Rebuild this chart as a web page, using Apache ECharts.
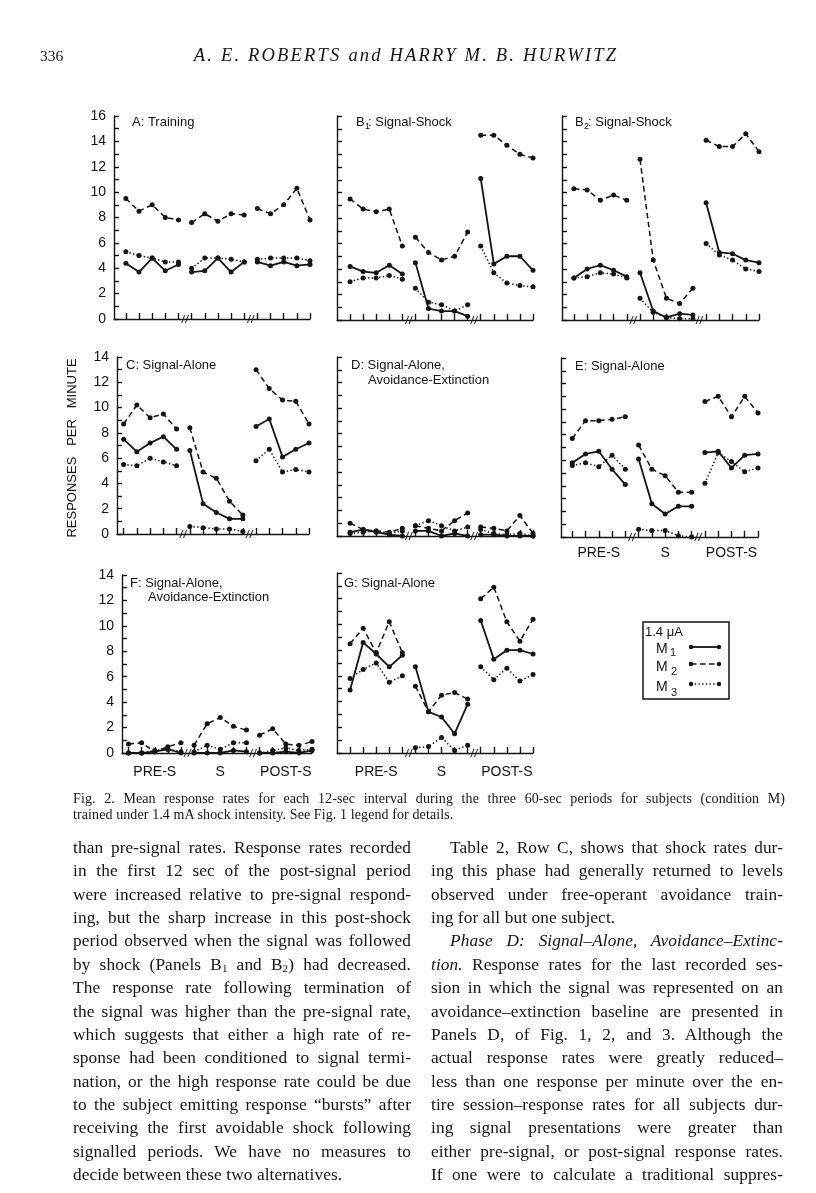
<!DOCTYPE html>
<html>
<head>
<meta charset="utf-8">
<script src="https://cdn.jsdelivr.net/npm/echarts@6/dist/echarts.min.js"></script>
<style>
  body { margin: 0; background: #fff; }
  #page { position: relative; width: 816px; height: 1193px; overflow: hidden; background: #fff; }
  #chart { position: absolute; left: 0; top: 0; width: 816px; height: 1193px; }
  .t { position: absolute; font-family: "Liberation Serif", serif; color: #151515; white-space: nowrap; }
  .ln { position: absolute; font-family: "Liberation Serif", serif; font-size: 17.3px; line-height: 20px; letter-spacing: 0.1px; color: #151515; white-space: nowrap; }
  .ln sub { font-size: 11px; vertical-align: -2px; line-height: 0; }
</style>
</head>
<body>
<div id="page">
  <div id="chart"></div>
  <div class="t" style="left:40px;top:47px;font-size:15.5px;">336</div>
  <div class="t" style="left:0;width:812px;text-align:center;top:45px;font-size:18.5px;font-style:italic;letter-spacing:2.2px;">A. E. ROBERTS and HARRY M. B. HURWITZ</div>
  <div id="text"></div>
</div>
<script>
// x positions of the 12-sec intervals (5 pre-signal, 5 signal, 5 post-signal)
const xPoints = [1, 2, 3, 4, 5, 6, 7, 8, 9, 10, 11, 12, 13, 14, 15];
const breaks = [5.5, 10.5];
const periodTicks = [3, 8, 13];
const periodLabels = ['PRE-S', 'S', 'POST-S'];

// responses per minute, M1 / M2 / M3
const A_M1 = [4.4, 3.7, 4.8, 3.8, 4.3, 3.7, 3.8, 4.8, 3.7, 4.5, 4.5, 4.2, 4.5, 4.2, 4.3];
const A_M2 = [9.5, 8.5, 9.0, 8.0, 7.8, 7.6, 8.3, 7.7, 8.3, 8.2, 8.7, 8.3, 9.0, 10.3, 7.8];
const A_M3 = [5.3, 5.0, 4.8, 4.5, 4.5, 4.0, 4.8, 4.8, 4.7, 4.5, 4.7, 4.8, 4.8, 4.8, 4.6];

const B1_M1 = [4.2, 3.8, 3.7, 4.3, 3.6, 4.5, 0.9, 0.7, 0.7, 0.3, 11.1, 4.4, 5.0, 5.0, 3.9];
const B1_M2 = [9.5, 8.7, 8.5, 8.7, 5.8, 6.5, 5.3, 4.7, 5.0, 6.9, 14.5, 14.5, 13.7, 13.0, 12.7];
const B1_M3 = [3.0, 3.3, 3.3, 3.5, 3.2, 2.5, 1.4, 1.2, 0.7, 1.2, 5.8, 3.7, 2.9, 2.7, 2.6];

const B2_M1 = [3.3, 4.0, 4.3, 3.9, 3.4, 3.7, 0.7, 0.2, 0.5, 0.4, 9.2, 5.3, 5.2, 4.7, 4.5];
const B2_M2 = [10.3, 10.2, 9.4, 9.8, 9.4, 12.6, 4.7, 1.7, 1.3, 2.5, 14.1, 13.6, 13.6, 14.6, 13.2];
const B2_M3 = [3.3, 3.4, 3.7, 3.6, 3.3, 1.7, 0.6, 0.2, 0.1, 0.1, 6.0, 5.1, 4.7, 4.0, 3.8];

const C_M1 = [7.5, 6.5, 7.2, 7.7, 6.7, 6.6, 2.4, 1.7, 1.2, 1.2, 8.5, 9.1, 6.1, 6.7, 7.2];
const C_M2 = [8.7, 10.2, 9.2, 9.5, 8.3, 8.4, 4.9, 4.4, 2.6, 1.5, 13.0, 11.5, 10.6, 10.5, 8.7];
const C_M3 = [5.5, 5.4, 6.0, 5.7, 5.4, 0.6, 0.5, 0.4, 0.4, 0.2, 5.8, 6.7, 4.9, 5.1, 4.9];

const D_M1 = [0.3, 0.5, 0.3, 0.1, 0.0, 0.4, 0.4, 0.0, 0.2, 0.0, 0.1, 0.1, 0.0, 0.0, 0.0];
const D_M2 = [1.0, 0.5, 0.4, 0.3, 0.6, 0.8, 0.6, 0.4, 1.2, 1.8, 0.7, 0.6, 0.4, 1.6, 0.2];
const D_M3 = [0.2, 0.3, 0.4, 0.2, 0.4, 0.8, 1.2, 0.8, 0.4, 0.7, 0.5, 0.2, 0.1, 0.2, 0.0];

const E_M1 = [5.8, 6.5, 6.7, 5.3, 4.1, 6.1, 2.6, 1.8, 2.4, 2.4, 6.6, 6.7, 5.4, 6.4, 6.5];
const E_M2 = [7.7, 9.1, 9.1, 9.2, 9.4, 7.2, 5.3, 4.8, 3.5, 3.5, 10.6, 11.0, 9.4, 11.0, 9.7];
const E_M3 = [5.6, 5.8, 5.5, 6.4, 5.3, 0.6, 0.5, 0.5, 0.1, 0.0, 4.2, 6.6, 5.9, 5.1, 5.4];

const F_M1 = [0.0, 0.0, 0.1, 0.3, 0.0, 0.0, 0.0, 0.0, 0.2, 0.1, 0.0, 0.0, 0.1, 0.0, 0.2];
const F_M2 = [0.7, 0.8, 0.1, 0.5, 0.8, 0.6, 2.3, 2.8, 2.1, 1.8, 1.4, 1.9, 0.7, 0.6, 0.9];
const F_M3 = [0.0, 0.0, 0.2, 0.3, 0.1, 0.1, 0.6, 0.3, 0.8, 0.8, 0.0, 0.2, 0.4, 0.2, 0.3];

const G_M1 = [4.9, 8.6, 7.7, 6.7, 7.6, 6.7, 3.2, 2.8, 1.5, 3.8, 10.3, 7.3, 8.0, 8.0, 7.7];
const G_M2 = [8.5, 9.7, 7.8, 10.2, 7.8, 5.2, 3.2, 4.5, 4.7, 4.2, 12.0, 12.9, 10.2, 8.7, 10.4];
const G_M3 = [5.8, 6.5, 7.0, 5.5, 6.0, 0.4, 0.5, 1.2, 0.2, 0.6, 6.7, 5.7, 6.6, 5.6, 6.1];

const INK = '#141414';
const SANS = '"Liberation Sans", Arial, sans-serif';

const panels = [
  { left: 114, right: 310, top: 116, bottom: 319, xMin: 0.1, yMax: 16, yLabels: true,  periods: false, data: [A_M1, A_M2, A_M3] },
  { left: 337, right: 533, top: 116, bottom: 320, xMin: 0,   yMax: 16, yLabels: false, periods: false, data: [B1_M1, B1_M2, B1_M3] },
  { left: 562, right: 759, top: 116, bottom: 320, xMin: 0.1, yMax: 16, yLabels: false, periods: false, data: [B2_M1, B2_M2, B2_M3] },
  { left: 117, right: 309, top: 357, bottom: 534, xMin: 0.5, yMax: 14, yLabels: true,  periods: false, data: [C_M1, C_M2, C_M3] },
  { left: 337, right: 533, top: 357, bottom: 536, xMin: 0,   yMax: 14, yLabels: false, periods: false, data: [D_M1, D_M2, D_M3] },
  { left: 561, right: 758, top: 358, bottom: 537, xMin: 0.15, yMax: 14, yLabels: false, periods: true, labelGap: 9, data: [E_M1, E_M2, E_M3] },
  { left: 122, right: 312, top: 575, bottom: 753, xMin: 0.5, yMax: 14, yLabels: true,  periods: true, labelGap: 12, data: [F_M1, F_M2, F_M3] },
  { left: 337, right: 533, top: 573, bottom: 753, xMin: 0,   yMax: 14, yLabels: false, periods: true, labelGap: 12, data: [G_M1, G_M2, G_M3] }
];

const lineTypes = [
  { type: 'solid', width: 1.8 },
  { type: [5.5, 3.5], width: 1.5 },
  { type: [1.4, 2.3], width: 1.5 }
];

// split the 15 points into three unconnected runs
function toRuns(vals) {
  const out = [];
  xPoints.forEach((x, i) => {
    out.push([x, vals[i]]);
    if (breaks.includes(x + 0.5)) out.push([x + 0.5, '-']);
  });
  return out;
}

const grid = [], xAxis = [], yAxis = [], series = [];
panels.forEach((p, i) => {
  grid.push({ left: p.left, top: p.top, width: p.right - p.left, height: p.bottom - p.top, containLabel: false });
  xAxis.push({
    type: 'value', gridIndex: i, min: p.xMin, max: 15,
    axisLine: { show: true, lineStyle: { color: INK, width: 1.4 } },
    axisTick: { show: true, inside: true, length: 6, customValues: xPoints, lineStyle: { color: INK, width: 1.4 } },
    axisLabel: p.periods ? {
      show: true, customValues: periodTicks, margin: p.labelGap, color: INK,
      fontFamily: SANS, fontSize: 14,
      formatter: v => periodLabels[periodTicks.indexOf(v)] || ''
    } : { show: false },
    splitLine: { show: false }
  });
  yAxis.push({
    type: 'value', gridIndex: i, min: 0, max: p.yMax, interval: 1,
    axisLine: { show: true, lineStyle: { color: INK, width: 1.4 } },
    axisTick: { show: true, inside: true, length: 5, lineStyle: { color: INK, width: 1.4 } },
    axisLabel: p.yLabels ? {
      show: true, margin: 8, color: INK, fontFamily: SANS, fontSize: 14,
      formatter: v => (v % 2 === 0 ? String(v) : '')
    } : { show: false },
    splitLine: { show: false }
  });
  p.data.forEach((vals, k) => {
    series.push({
      type: 'line', xAxisIndex: i, yAxisIndex: i, data: toRuns(vals),
      connectNulls: false, symbol: 'circle', symbolSize: 5, showSymbol: true,
      lineStyle: { color: INK, width: lineTypes[k].width, type: lineTypes[k].type },
      itemStyle: { color: INK }, silent: true, animation: false, z: 3
    });
  });
  series.push({
    type: 'scatter', xAxisIndex: i, yAxisIndex: i,
    data: breaks.map(b => [b, 0]),
    symbol: 'path://M0,10 L3,0 L4.2,0 L1.2,10 Z M3.6,10 L6.6,0 L7.8,0 L4.8,10 Z',
    symbolSize: [8, 8], itemStyle: { color: INK }, silent: true, animation: false, z: 4
  });
});

function txt(x, y, text, size, extra) {
  return Object.assign({
    type: 'text', x: x, y: y, silent: true,
    style: { text: text, fill: INK, fontFamily: SANS, fontSize: size || 13, textVerticalAlign: 'middle' }
  }, extra || {});
}

const graphic = [
  txt(132, 122, 'A: Training'),
  txt(356, 122, 'B'), txt(365, 127, '1', 9), txt(368, 122, ': Signal-Shock'),
  txt(575, 122, 'B'), txt(584, 127, '2', 9), txt(588, 122, ': Signal-Shock'),
  txt(126, 365, 'C: Signal-Alone'),
  txt(351, 365, 'D: Signal-Alone,'), txt(368, 380, 'Avoidance-Extinction'),
  txt(575, 366, 'E: Signal-Alone'),
  txt(130, 583, 'F: Signal-Alone,'), txt(148, 597, 'Avoidance-Extinction'),
  txt(344, 583, 'G: Signal-Alone'),
  txt(72, 448, 'RESPONSES   PER   MINUTE', 13, {
    rotation: Math.PI / 2, style: { text: 'RESPONSES   PER   MINUTE', fill: INK, fontFamily: SANS, fontSize: 13, textAlign: 'center', textVerticalAlign: 'middle' }
  }),
  // legend box
  { type: 'rect', silent: true, shape: { x: 643, y: 622, width: 86, height: 77 }, style: { fill: 'none', stroke: INK, lineWidth: 1.5 } },
  txt(645, 632, '1.4 \u03bcA', 13),
  txt(656, 649, 'M', 14), txt(670, 653, '1', 11),
  txt(656, 667, 'M', 14), txt(671, 672, '2', 11),
  txt(656, 687, 'M', 14), txt(671, 693, '3', 11)
];
const legendRows = [647, 664, 684];
legendRows.forEach((y, k) => {
  graphic.push({ type: 'line', silent: true, shape: { x1: 691, y1: y, x2: 719, y2: y },
    style: { stroke: INK, lineWidth: lineTypes[k].width, lineDash: k === 0 ? null : lineTypes[k].type } });
  graphic.push({ type: 'circle', silent: true, shape: { cx: 691, cy: y, r: 2.2 }, style: { fill: INK } });
  graphic.push({ type: 'circle', silent: true, shape: { cx: 719, cy: y, r: 2.2 }, style: { fill: INK } });
});

const chart = echarts.init(document.getElementById('chart'), null, { renderer: 'canvas' });
chart.setOption({ animation: false, backgroundColor: '#fff', grid, xAxis, yAxis, series, graphic });

// ---- caption and body text ----
const caption = [
  'Fig. 2. Mean response rates for each 12-sec interval during the three 60-sec periods for subjects (condition M)',
  'trained under 1.4 mA shock intensity. See Fig. 1 legend for details.'
];
const leftCol = [
  'than pre-signal rates. Response rates recorded',
  'in the first 12 sec of the post-signal period',
  'were increased relative to pre-signal respond-',
  'ing, but the sharp increase in this post-shock',
  'period observed when the signal was followed',
  'by shock (Panels B<sub>1</sub> and B<sub>2</sub>) had decreased.',
  'The response rate following termination of',
  'the signal was higher than the pre-signal rate,',
  'which suggests that either a high rate of re-',
  'sponse had been conditioned to signal termi-',
  'nation, or the high response rate could be due',
  'to the subject emitting response \u201cbursts\u201d after',
  'receiving the first avoidable shock following',
  'signalled periods. We have no measures to',
  'decide between these two alternatives.'
];
const rightCol = [
  'Table 2, Row C, shows that shock rates dur-',
  'ing this phase had generally returned to levels',
  'observed under free-operant avoidance train-',
  'ing for all but one subject.',
  '<i>Phase D: Signal\u2013Alone, Avoidance\u2013Extinc-</i>',
  '<i>tion.</i> Response rates for the last recorded ses-',
  'sion in which the signal was represented on an',
  'avoidance\u2013extinction baseline are presented in',
  'Panels D, of Fig. 1, 2, and 3. Although the',
  'actual response rates were greatly reduced\u2013',
  'less than one response per minute over the en-',
  'tire session\u2013response rates for all subjects dur-',
  'ing signal presentations were greater than',
  'either pre-signal, or post-signal response rates.',
  'If one were to calculate a traditional suppres-'
];
const leftEnds = [14];
const rightEnds = [3];
const rightIndents = [0, 4];

const holder = document.getElementById('text');
function placeLine(html, x, y, width, justify, size, lh) {
  const el = document.createElement('div');
  el.className = 'ln';
  el.style.left = x + 'px';
  el.style.top = y + 'px';
  if (size) { el.style.fontSize = size + 'px'; el.style.lineHeight = lh + 'px'; }
  el.innerHTML = html;
  holder.appendChild(el);
  if (justify) {
    const natural = el.getBoundingClientRect().width;
    const spaces = (el.textContent.match(/ /g) || []).length;
    if (spaces > 0) el.style.wordSpacing = ((width - natural) / spaces) + 'px';
  }
}
placeLine(caption[0], 73, 791, 712, true, 14, 16);
placeLine(caption[1], 73, 807, 712, false, 14, 16);
leftCol.forEach((s, i) => placeLine(s, 73, 838 + i * 23.36, 338, !leftEnds.includes(i)));
rightCol.forEach((s, i) => {
  const ind = rightIndents.includes(i) ? 19 : 0;
  placeLine(s, 431 + ind, 838 + i * 23.36, 352 - ind, !rightEnds.includes(i));
});
</script>
</body>
</html>
